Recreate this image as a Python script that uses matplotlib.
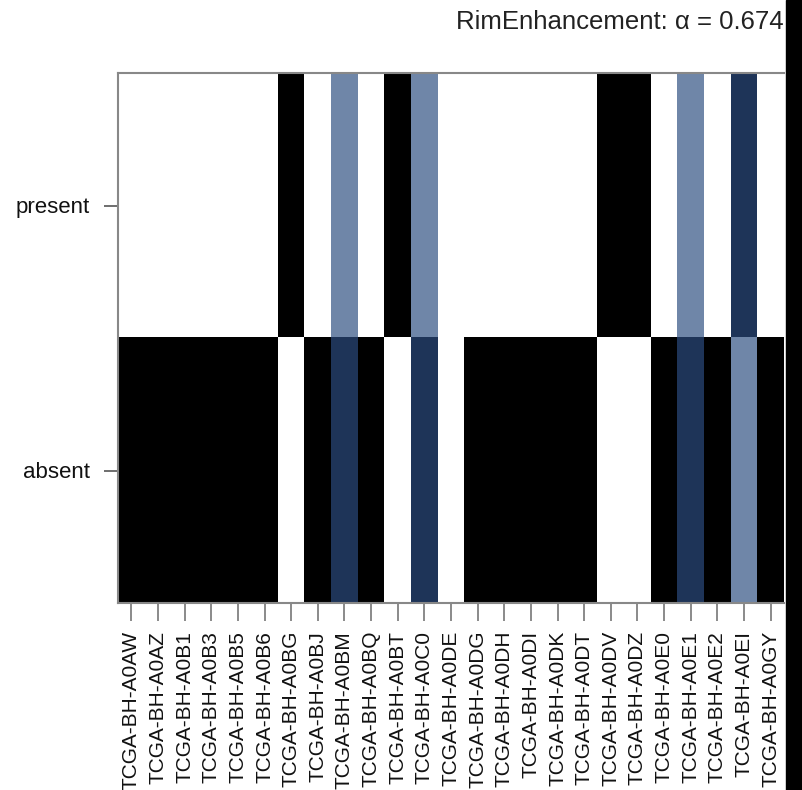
import numpy as np
import matplotlib
matplotlib.use("Agg")
import matplotlib.pyplot as plt
from matplotlib.colors import ListedColormap
from matplotlib.patches import Rectangle

plt.rcParams["font.family"] = ["Liberation Sans", "DejaVu Sans"]

samples = ["TCGA-BH-A0AW", "TCGA-BH-A0AZ", "TCGA-BH-A0B1", "TCGA-BH-A0B3", "TCGA-BH-A0B5",
           "TCGA-BH-A0B6", "TCGA-BH-A0BG", "TCGA-BH-A0BJ", "TCGA-BH-A0BM", "TCGA-BH-A0BQ",
           "TCGA-BH-A0BT", "TCGA-BH-A0C0", "TCGA-BH-A0DE", "TCGA-BH-A0DG", "TCGA-BH-A0DH",
           "TCGA-BH-A0DI", "TCGA-BH-A0DK", "TCGA-BH-A0DT", "TCGA-BH-A0DV", "TCGA-BH-A0DZ",
           "TCGA-BH-A0E0", "TCGA-BH-A0E1", "TCGA-BH-A0E2", "TCGA-BH-A0EI", "TCGA-BH-A0GY"]
rows = ["present", "absent"]
# 0 = white, 1 = light blue, 2 = navy, 3 = black
present = [0, 0, 0, 0, 0, 0, 3, 0, 1, 0, 3, 1, 0, 0, 0, 0, 0, 0, 3, 3, 0, 1, 0, 2, 0]
absent  = [3, 3, 3, 3, 3, 3, 0, 3, 2, 3, 0, 2, 0, 3, 3, 3, 3, 3, 0, 0, 3, 2, 3, 1, 3]
title = "RimEnhancement: α = 0.674"

cmap = ListedColormap(["#ffffff", "#6f86a8", "#1e3458", "#000000"])
M = np.array([present, absent])

W, H = 803, 790
fig = plt.figure(figsize=(W / 100, H / 100), dpi=100)
ax = fig.add_axes([118 / W, 1 - 603 / H, (784 - 118) / W, (603 - 73) / H])
ax.imshow(M, cmap=cmap, vmin=-0.5, vmax=3.5, aspect="auto", interpolation="nearest")

ax.set_xticks(range(len(samples)))
ax.set_xticklabels(samples, rotation=90, fontsize=15, color="#111111")
ax.set_yticks(range(len(rows)))
ax.set_yticklabels(rows, fontsize=16, color="#111111")
ax.tick_params(axis="x", length=13, width=1.2, color="#777777", pad=7)
ax.tick_params(axis="y", length=10, width=1.2, color="#555555", pad=10)
for s in ["top", "left", "bottom"]:
    ax.spines[s].set_color("#888888")
    ax.spines[s].set_linewidth(1.5)
ax.spines["right"].set_visible(False)

fig.text(784 / W, 1 - 22 / H, title, ha="right", va="center", fontsize=18.5, color="#222222")

# black padding band at the right edge
fig.patches.append(Rectangle((786 / W, 0), 1, 1, transform=fig.transFigure,
                             color="black", zorder=10))

fig.savefig("out.png", dpi=100)
